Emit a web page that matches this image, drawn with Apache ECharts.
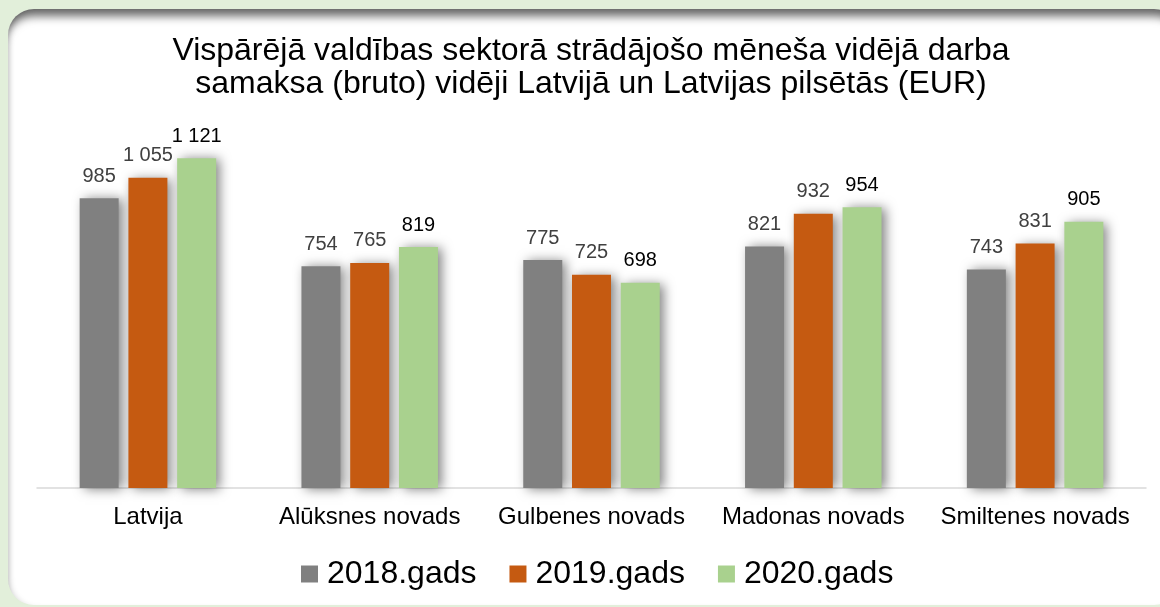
<!DOCTYPE html>
<html>
<head>
<meta charset="utf-8">
<script src="https://cdn.jsdelivr.net/npm/echarts@6/dist/echarts.min.js"></script>
<style>
  html, body { margin: 0; padding: 0; width: 1160px; height: 607px; overflow: hidden; background: #e2efda; }
  .panel {
    position: absolute; left: 8px; top: 9px; width: 1172px; height: 596px;
    background: #ffffff; border-radius: 26px;
    box-shadow: inset 0 12px 10px -5px rgba(0, 0, 0, 0.6), inset 5px 0 6px -4px rgba(0, 0, 0, 0.18);
  }
  #chart { position: absolute; left: 0; top: 0; width: 1160px; height: 607px; }
</style>
</head>
<body>
<div class="panel"></div>
<div id="chart"></div>
<script>
// dati no attēla (EUR)
const categories = ["Latvija", "Alūksnes novads", "Gulbenes novads", "Madonas novads", "Smiltenes novads"];
const seriesNames = ["2018.gads", "2019.gads", "2020.gads"];
const values2018 = [985, 754, 775, 821, 743];
const values2019 = [1055, 765, 725, 932, 831];
const values2020 = [1121, 819, 698, 954, 905];

const titleText = "Vispārējā valdības sektorā strādājošo mēneša vidējā darba\nsamaksa (bruto) vidēji Latvijā un Latvijas pilsētās (EUR)";

const colors = ["#808080", "#c55a11", "#a9d18e"];
const labelColors = ["#404040", "#404040", "#000000"];
const fontFamily = "'Liberation Sans', Arial, sans-serif";

// 1055 -> "1 055"
function fmt(v) {
  return String(v).replace(/\B(?=(\d{3})+(?!\d))/g, " ");
}

const chart = echarts.init(document.getElementById("chart"), null, { renderer: "canvas" });

const barSeries = [values2018, values2019, values2020].map((data, i) => ({
  name: seriesNames[i],
  type: "bar",
  data: data,
  barWidth: 39,
  barGap: "25%",
  itemStyle: {
    color: colors[i],
    shadowBlur: 11,
    shadowOffsetX: 4,
    shadowOffsetY: 1,
    shadowColor: "rgba(0, 0, 0, 0.5)",
  },
  label: {
    show: true,
    position: "top",
    distance: 12,
    color: labelColors[i],
    fontSize: 20,
    fontFamily: fontFamily,
    formatter: (p) => fmt(p.value),
  },
}));

chart.setOption({
  animation: false,
  textStyle: { fontFamily: fontFamily },
  graphic: [
    {
      type: "text",
      x: 591,
      y: 35,
      style: {
        text: titleText,
        fill: "#000000",
        font: "32px " + fontFamily,
        align: "center",
        verticalAlign: "top",
        lineHeight: 33,
      },
    },
  ],
  legend: {
    data: seriesNames,
    left: 301,
    top: 558,
    padding: 0,
    icon: "rect",
    itemWidth: 17,
    itemHeight: 17,
    itemGap: 33,
    textStyle: {
      color: "#000000",
      fontSize: 32,
      fontFamily: fontFamily,
      padding: [0, 0, 0, 4],
    },
  },
  grid: {
    left: 37,
    right: 14,
    top: 135,
    bottom: 119,
  },
  xAxis: {
    type: "category",
    data: categories,
    axisTick: { show: false },
    axisLine: {
      show: true,
      lineStyle: { color: "#d9d9d9", width: 1.5 },
    },
    axisLabel: {
      interval: 0,
      color: "#000000",
      fontSize: 24,
      margin: 17,
      fontFamily: fontFamily,
    },
  },
  yAxis: {
    type: "value",
    min: 0,
    max: 1200,
    show: false,
    splitLine: { show: false },
  },
  series: barSeries,
});
</script>
</body>
</html>
